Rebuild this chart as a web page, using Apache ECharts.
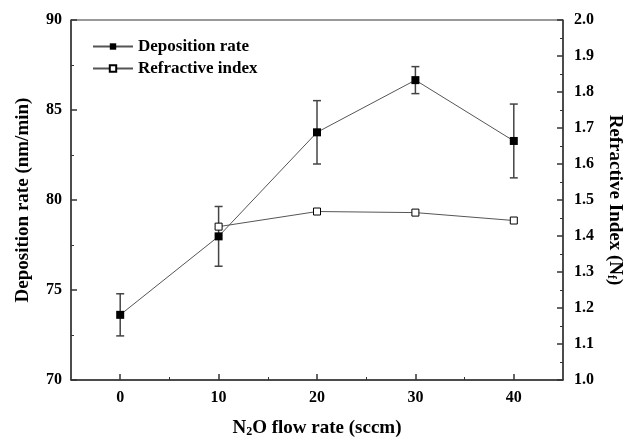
<!DOCTYPE html>
<html>
<head>
<meta charset="utf-8">
<title>Deposition rate / Refractive index</title>
<script src="https://cdn.jsdelivr.net/npm/echarts@6/dist/echarts.min.js"></script>
<style>
  html, body { margin: 0; padding: 0; background: #fff; }
  #chart { width: 633px; height: 443px; }
</style>
</head>
<body>
<div id="chart"></div>
<script>
// data
const flowRate = [0, 10, 20, 30, 40]
const depositionRate = [73.62, 77.98, 83.76, 86.66, 83.28]
const depositionErr = [1.17, 1.66, 1.76, 0.75, 2.05]
const indexFlowRate = [10, 20, 30, 40]
const refractiveIndex = [1.426, 1.468, 1.465, 1.443]
const xMajorTicks = [0, 10, 20, 30, 40]
const xMinorTicks = [5, 15, 25, 35]

const font = 'Liberation Serif'
const axisColor = '#333'

const chart = echarts.init(document.getElementById('chart'))

const depData = flowRate.map((x, i) => [x, depositionRate[i]])
const errData = flowRate.map((x, i) => [x, depositionRate[i] - depositionErr[i], depositionRate[i] + depositionErr[i]])
const riData = indexFlowRate.map((x, i) => [x, refractiveIndex[i]])

function errorBar (params, api) {
  const x = api.value(0)
  const lo = api.coord([x, api.value(1)])
  const hi = api.coord([x, api.value(2)])
  const cap = 4
  const style = { stroke: '#444', lineWidth: 1.5 }
  return {
    type: 'group',
    children: [
      { type: 'line', shape: { x1: lo[0], y1: lo[1], x2: hi[0], y2: hi[1] }, style: style },
      { type: 'line', shape: { x1: lo[0] - cap, y1: lo[1], x2: lo[0] + cap, y2: lo[1] }, style: style },
      { type: 'line', shape: { x1: hi[0] - cap, y1: hi[1], x2: hi[0] + cap, y2: hi[1] }, style: style }
    ]
  }
}

const labelStyle = { color: '#000', fontFamily: font, fontWeight: 'bold', fontSize: 16 }
const nameStyle = {
  color: '#000',
  fontFamily: font,
  fontWeight: 'bold',
  fontSize: 19,
  rich: {
    sub: { fontFamily: font, fontWeight: 'bold', fontSize: 12, verticalAlign: 'bottom', padding: [8, 0, 0, 0] }
  }
}

const option = {
  animation: false,
  grid: {
    left: 71,
    right: 70,
    top: 20,
    bottom: 61,
    show: true,
    borderColor: axisColor,
    borderWidth: 1
  },
  legend: {
    orient: 'vertical',
    left: 87,
    top: 33,
    itemWidth: 40,
    itemHeight: 8,
    itemGap: 5,
    textStyle: { color: '#000', fontFamily: font, fontWeight: 'bold', fontSize: 17 },
    data: ['Deposition rate', 'Refractive index']
  },
  xAxis: [
    {
      type: 'value',
      min: -5,
      max: 45,
      name: '{n|N}{sub|2}{n|O flow rate (sccm)}',
      nameLocation: 'middle',
      nameGap: 38,
      nameTextStyle: Object.assign({}, nameStyle, {
        rich: {
          n: { fontFamily: font, fontWeight: 'bold', fontSize: 19, color: '#000' },
          sub: nameStyle.rich.sub
        }
      }),
      axisLine: { onZero: false, lineStyle: { color: axisColor, width: 1.5 } },
      axisTick: { inside: true, length: 6, lineStyle: { color: axisColor, width: 1.5 }, customValues: xMajorTicks },
      axisLabel: Object.assign({ margin: 10, customValues: xMajorTicks }, labelStyle),
      splitLine: { show: false }
    },
    {
      // short ticks between the labelled ones
      type: 'value',
      position: 'bottom',
      min: -5,
      max: 45,
      axisLine: { show: false, onZero: false },
      axisTick: { inside: true, length: 3, lineStyle: { color: axisColor }, customValues: xMinorTicks },
      axisLabel: { show: false },
      splitLine: { show: false }
    }
  ],
  yAxis: [
    {
      type: 'value',
      position: 'left',
      min: 70,
      max: 90,
      interval: 5,
      name: 'Deposition rate (nm/min)',
      nameLocation: 'middle',
      nameRotate: 90,
      nameGap: 38,
      nameTextStyle: nameStyle,
      axisLine: { show: true, onZero: false, lineStyle: { color: axisColor, width: 1.5 } },
      axisTick: { inside: true, length: 6, lineStyle: { color: axisColor, width: 1.5 } },
      minorTick: { show: true, splitNumber: 2, length: 3, lineStyle: { color: axisColor } },
      axisLabel: Object.assign({ margin: 9 }, labelStyle),
      splitLine: { show: false }
    },
    {
      type: 'value',
      position: 'right',
      min: 1,
      max: 2,
      interval: 0.1,
      name: 'Refractive Index (N{sub|f})',
      nameLocation: 'middle',
      nameRotate: -90,
      nameGap: 42,
      nameTextStyle: nameStyle,
      axisLine: { show: true, onZero: false, lineStyle: { color: axisColor, width: 1.5 } },
      axisTick: { inside: true, length: 6, lineStyle: { color: axisColor, width: 1.5 } },
      minorTick: { show: true, splitNumber: 2, length: 3, lineStyle: { color: axisColor } },
      axisLabel: Object.assign({ margin: 11, formatter: v => v.toFixed(1) }, labelStyle),
      splitLine: { show: false }
    }
  ],
  series: [
    {
      name: 'Deposition error',
      type: 'custom',
      xAxisIndex: 0,
      yAxisIndex: 0,
      renderItem: errorBar,
      encode: { x: 0, y: [1, 2] },
      data: errData,
      z: 1
    },
    {
      name: 'Deposition rate',
      type: 'line',
      xAxisIndex: 0,
      yAxisIndex: 0,
      data: depData,
      symbol: 'rect',
      symbolSize: 8,
      lineStyle: { color: '#555', width: 1 },
      itemStyle: { color: '#000', borderColor: '#000', borderWidth: 0 },
      z: 3
    },
    {
      name: 'Refractive index',
      type: 'line',
      xAxisIndex: 0,
      yAxisIndex: 1,
      data: riData,
      symbol: 'rect',
      symbolSize: 7,
      showAllSymbol: true,
      lineStyle: { color: '#555', width: 1 },
      itemStyle: { color: '#fff', borderColor: '#000', borderWidth: 1 },
      z: 4
    }
  ]
}

chart.setOption(option)
</script>
</body>
</html>
